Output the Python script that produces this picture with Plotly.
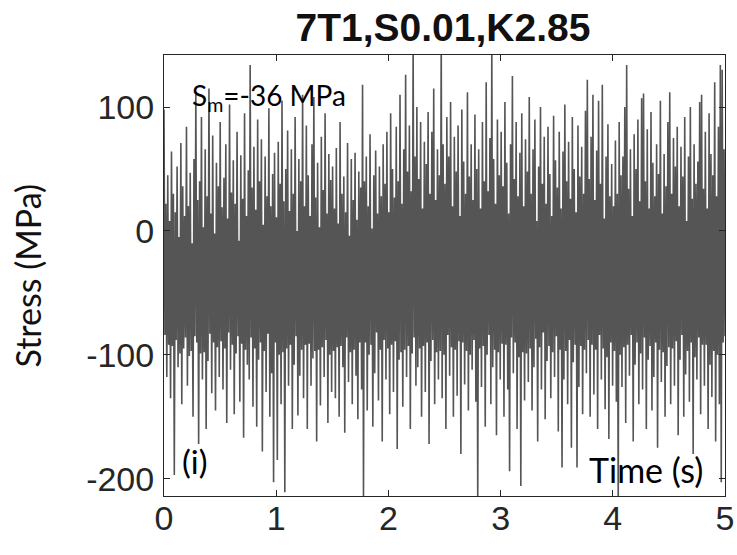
import numpy as np
import plotly.graph_objects as go

# Stress history samples (MPa), 0-5 s, listed in quarter-second blocks
stress_blocks = [
    [98, -84, 22, -118, 45, -92, 8, -135, 64, -93, 30, -197, 15, -88, 52, -110, -5, -99, 71, -140, 36, -95, 12, -86, 84, -125, 20, -101, 47, -97],
    [-10, -150, 58, -85, 110, -90, 25, -172, 40, -99, 92, -120, 3, -98, 66, -160, 28, -105, 115, -83, 14, -131, 77, -90, -2, -145, 55, -94, 36, -118],
    [88, -89, 19, -128, 43, -95, 70, -155, 10, -82, 102, -112, 31, -92, 57, -148, 22, -99, 80, -85, -8, -138, 61, -91, 26, -167, 95, -96, 12, -108],
    [49, -120, 134, -86, 35, -142, 68, -95, 17, -158, 90, -104, 40, -90, 74, -178, 5, -97, 60, -130, 28, -83, 99, -150, 20, -115, 46, -203, 63, -90],
    [11, -185, 72, -100, 38, -140, 105, -98, 24, -211, 50, -95, 81, -125, 16, -92, 66, -160, 30, -108, 92, -85, 0, -149, 58, -117, 40, -96, 110, -135],
    [20, -92, 85, -160, 45, -91, 12, -125, 70, -103, 108, -97, 27, -170, 55, -96, 3, -141, 76, -94, 33, -118, 95, -88, 14, -155, 62, -100, 41, -130],
    [52, -97, 18, -135, 67, -94, 6, -150, 88, -93, 30, -110, 44, -163, 15, -86, 71, -122, -4, -98, 58, -140, 25, -96, 63, -117, 9, -152, 48, -90],
    [35, -128, 118, -216, 40, -90, 60, -145, 20, -100, 78, -92, 2, -158, 45, -115, 65, -82, 14, -137, 52, -96, 28, -170, 70, -88, 38, -120, 80, -95],
    [15, -148, 95, -92, 50, -130, 27, -89, 84, -176, 40, -104, 110, -98, 22, -142, 66, -96, 126, -118, 48, -93, 85, -160, 32, -99, 150, -86, 60, -125],
    [100, -110, 42, -95, 88, -150, 18, -93, 72, -130, 54, -90, 96, -172, 30, -105, 80, -88, 115, -140, 25, -98, 66, -120, 45, -97, 155, -135, 70, -100],
    [38, -160, 92, -84, 60, -117, 104, -94, 20, -150, 76, -96, 48, -133, 85, -89, 12, -180, 98, -90, 56, -124, 30, -97, 112, -145, 44, -100, 70, -112],
    [25, -88, 94, -138, 50, -218, 66, -95, 18, -126, 88, -93, 40, -158, 120, -100, 32, -84, 75, -140, 150, -110, 58, -96, 22, -165, 90, -98, 45, -120],
    [80, -91, 36, -150, 104, -92, 55, -128, 14, -194, 70, -86, 125, -115, 42, -90, 88, -160, 28, -102, 63, -206, 95, -98, 20, -137, 74, -99, 48, -122],
    [108, -95, 30, -145, 66, -110, 90, -87, 8, -170, 52, -94, 100, -128, 38, -82, 76, -152, 22, -105, 84, -93, 46, -135, 12, -98, 93, -118, 57, -85],
    [35, -162, 80, -96, 18, -191, 64, -120, 102, -97, 40, -140, 72, -88, 26, -175, 92, -106, 50, -92, 15, -191, 85, -126, 44, -93, 68, -148, 30, -96],
    [97, -115, 122, -88, 42, -150, 76, -92, 110, -132, 25, -96, 65, -160, 105, -84, 38, -120, 118, -95, 10, -144, 60, -102, 86, -168, 28, -90, 54, -125],
    [20, -97, 73, -138, 30, -220, 88, -100, 45, -126, 60, -94, 100, -155, 134, -92, 34, -117, 66, -84, 12, -170, 78, -108, 50, -90, 90, -140, 24, -99],
    [107, -128, 111, -86, 40, -160, 82, -104, 18, -93, 96, -145, 55, -118, 28, -90, 70, -175, 46, -96, 105, -122, 14, -98, 62, -150, 36, -109, 88, -94],
    [112, -140, 30, -95, 75, -125, 52, -89, 84, -165, 20, -104, 68, -84, 44, -150, 92, -116, 8, -97, 60, -138, 100, -90, 26, -180, 70, -102, 38, -120],
    [56, -86, 104, -148, 110, -92, 34, -125, 80, -92, 18, -160, 95, -108, 62, -134, 45, -97, 120, -170, 28, -100, 84, -140, 134, -203, 130, -90, 66, -85],
]
stress = np.concatenate([np.array(b, dtype=float) for b in stress_blocks])
time = np.linspace(0.0, 5.0, stress.size)

x_ticks = [0, 1, 2, 3, 4, 5]
x_tick_text = ["0", "1", "2", "3", "4", "5"]
y_ticks = [-200, -100, 0, 100]
y_tick_text = ["-200", "-100", "0", "100"]
title_text = "<b>7T1,S0.01,K2.85</b>"
mean_label = "S<sub>m</sub>=-36 MPa"
panel_label = "(i)"
x_label = "Time (s)"
y_label = "Stress (MPa)"

fig = go.Figure()
fig.add_trace(go.Scatter(
    x=time, y=stress, mode="lines",
    line=dict(color="#555555", width=1.6),
    hoverinfo="skip", showlegend=False,
))

axis_common = dict(
    showline=True, linecolor="#262626", linewidth=1, mirror="ticks",
    ticks="inside", ticklen=6, tickwidth=1, tickcolor="#262626",
    showgrid=False, zeroline=False, automargin=False,
    tickfont=dict(family="Liberation Sans, Arial, sans-serif", size=34, color="#262626"),
)

fig.update_layout(
    width=737, height=555,
    margin=dict(l=164, r=12, t=55, b=59, autoexpand=False),
    paper_bgcolor="white", plot_bgcolor="white",
    title=dict(text=title_text, x=0.601, xanchor="center", y=0.95, yanchor="middle",
               font=dict(family="Liberation Sans, Arial, sans-serif", size=39, color="#111111")),
    xaxis=dict(range=[0, 5], tickvals=x_ticks, ticktext=x_tick_text,
               ticklabelstandoff=-8, **axis_common),
    yaxis=dict(range=[-214, 142], tickvals=y_ticks, ticktext=y_tick_text,
               ticklabelstandoff=2, **axis_common),
    font=dict(family="Lato, sans-serif"),
)

fig.add_annotation(x=0.0, xref="paper", xanchor="center", y=0.5, yref="paper",
                   text=y_label, textangle=-90, showarrow=False,
                   font=dict(family="Lato, sans-serif", size=34, color="#111111"),
                   xshift=-137)
fig.add_annotation(x=0.23, y=108, xanchor="left", yanchor="middle", text=mean_label,
                   showarrow=False, font=dict(family="Lato, sans-serif", size=28, color="#000000"))
fig.add_annotation(x=0.14, y=-186, xanchor="left", yanchor="middle", text=panel_label,
                   showarrow=False, font=dict(family="Lato, sans-serif", size=33, color="#000000"))
fig.add_annotation(x=4.3, y=-193, xanchor="center", yanchor="middle", text=x_label,
                   showarrow=False, font=dict(family="Lato, sans-serif", size=34, color="#000000"))

fig.write_html("out.html")
